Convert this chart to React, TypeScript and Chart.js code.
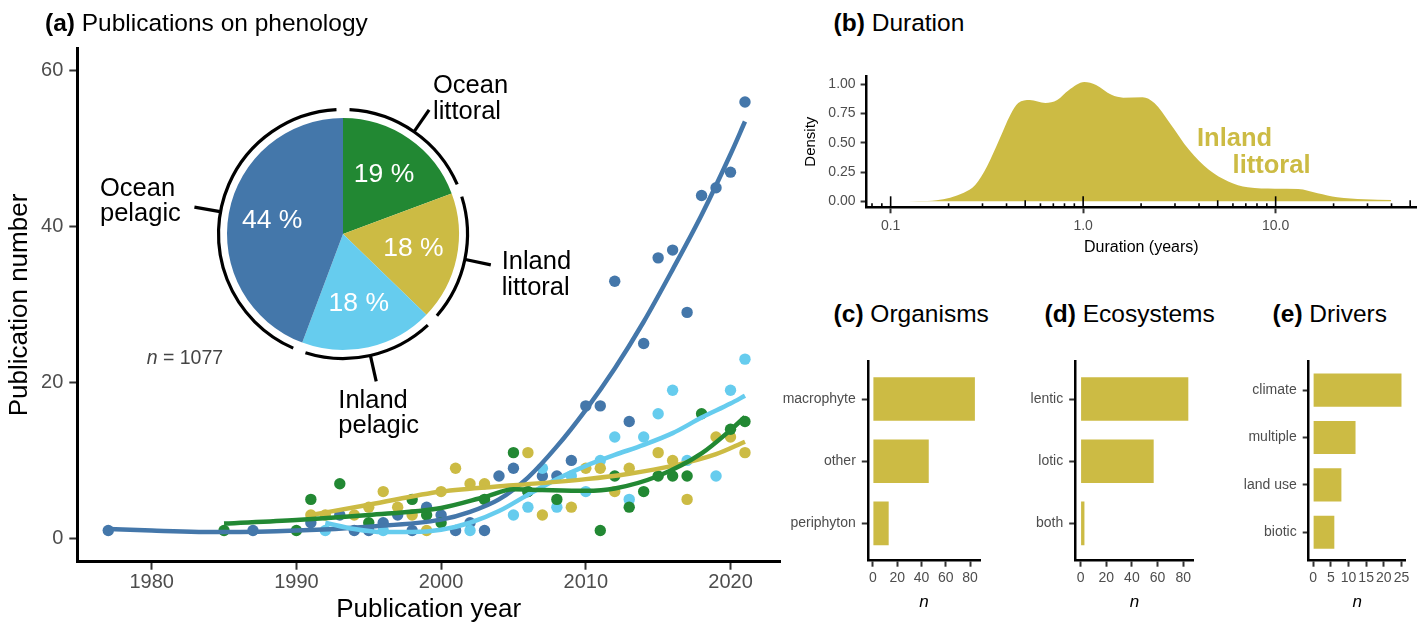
import React, { useEffect, useRef } from 'react';
import { Chart, registerables } from 'chart.js';
Chart.register(...registerables);

const FONT = '"Liberation Sans", Arial, Helvetica, sans-serif';
const TICK_GREY = '#4d4d4d';
const BLUE = '#4477AA';
const GREEN = '#228833';
const YELLOW = '#CCBB44';
const CYAN = '#66CCEE';

// ---------- (a) Publications per year ----------
const yearTicks = [1980, 1990, 2000, 2010, 2020];
const countTicks = [0, 20, 40, 60];

const oceanPelagicYears = [1977, 1987, 1991, 1993, 1994, 1995, 1996, 1997, 1998, 1999, 2000, 2001, 2002, 2003, 2004, 2005, 2006, 2007, 2008, 2009, 2010, 2011, 2012, 2013, 2014, 2015, 2016, 2017, 2018, 2019, 2020, 2021];
const oceanPelagicCounts = [1, 1, 2, 3, 1, 1, 2, 3, 1, 4, 3, 1, 2, 1, 8, 9, 6, 8, 8, 10, 17, 17, 33, 15, 25, 36, 37, 29, 44, 45, 47, 56];
const oceanLittoralYears = [1985, 1990, 1991, 1993, 1995, 1998, 1999, 2000, 2003, 2005, 2006, 2008, 2011, 2012, 2013, 2014, 2015, 2016, 2017, 2018, 2020, 2021];
const oceanLittoralCounts = [1, 1, 5, 7, 2, 5, 3, 2, 5, 11, 6, 5, 1, 8, 4, 6, 8, 8, 8, 16, 14, 15];
const inlandLittoralYears = [1991, 1992, 1994, 1995, 1996, 1997, 1998, 1999, 2000, 2001, 2002, 2003, 2006, 2007, 2009, 2010, 2011, 2012, 2013, 2015, 2016, 2017, 2019, 2020, 2021];
const inlandLittoralCounts = [3, 3, 3, 4, 6, 4, 3, 1, 6, 9, 7, 7, 11, 3, 4, 9, 9, 6, 9, 11, 10, 5, 13, 13, 11];
const inlandPelagicYears = [1992, 1996, 2002, 2005, 2006, 2007, 2008, 2009, 2010, 2011, 2012, 2013, 2014, 2015, 2016, 2017, 2019, 2020, 2021];
const inlandPelagicCounts = [1, 1, 1, 3, 4, 9, 4, 8, 6, 10, 13, 5, 13, 16, 19, 10, 8, 19, 23];

// smoothed trends
const oceanPelagicTrendYears = [1977, 1980, 1985, 1990, 1995, 2000, 2002, 2004, 2006, 2008, 2010, 2012, 2014, 2016, 2018, 2020, 2021];
const oceanPelagicTrend = [1.2, 1.0, 0.8, 1.0, 1.5, 2.4, 3.4, 5.0, 7.8, 11.8, 16.5, 21.8, 27.8, 34.5, 41.5, 49.3, 53.5];
const oceanLittoralTrendYears = [1985, 1990, 1995, 2000, 2003, 2005, 2007, 2010, 2012, 2015, 2018, 2020, 2021];
const oceanLittoralTrend = [1.9, 2.35, 3.0, 3.9, 5.3, 6.3, 6.2, 6.1, 6.4, 8.0, 10.9, 13.9, 15.6];
const inlandLittoralTrendYears = [1991, 1995, 2000, 2005, 2010, 2013, 2016, 2019, 2021];
const inlandLittoralTrend = [3.0, 4.3, 6.0, 6.8, 7.6, 8.3, 9.3, 10.8, 12.4];
const inlandPelagicTrendYears = [1992, 1994, 1996, 1998, 2000, 2002, 2004, 2006, 2008, 2010, 2012, 2014, 2016, 2018, 2020, 2021];
const inlandPelagicTrend = [2.0, 1.2, 0.8, 0.8, 1.1, 2.0, 3.5, 5.6, 7.6, 9.3, 10.7, 12, 13.5, 15.5, 17.3, 18.3];

// pie (clockwise from top)
const habitatNames = ['Ocean littoral', 'Inland littoral', 'Inland pelagic', 'Ocean pelagic'];
const habitatCounts = [208, 193, 199, 477];
const habitatColors = [GREEN, YELLOW, CYAN, BLUE];

// ---------- (b) Duration density ----------
const durationYears = [0.109, 0.14, 0.173, 0.24, 0.275, 0.317, 0.365, 0.419, 0.46, 0.528, 0.637, 0.733, 0.841, 1.014, 1.167, 1.403, 1.614, 2.037, 2.344, 2.818, 3.548, 4.498, 5.675, 7.161, 9.908, 13.09, 16.52, 20.89, 28.84, 39.8];
const durationDensity = [0, 0.003, 0.01, 0.074, 0.14, 0.30, 0.52, 0.74, 0.84, 0.866, 0.84, 0.866, 0.95, 1.02, 0.994, 0.91, 0.886, 0.89, 0.84, 0.67, 0.44, 0.27, 0.17, 0.12, 0.108, 0.105, 0.068, 0.034, 0.017, 0.011];
const durationTicks = [0.1, 1, 10];
const densityTicks = [0, 0.25, 0.5, 0.75, 1];

// ---------- (c)(d)(e) bars ----------
const organismCategories = ['macrophyte', 'other', 'periphyton'];
const organismCounts = [84, 46, 13];
const ecosystemCategories = ['lentic', 'lotic', 'both'];
const ecosystemCounts = [84, 57, 3];
const driverCategories = ['climate', 'multiple', 'land use', 'biotic'];
const driverCounts = [25, 12, 8, 6];
const nTicks80 = [0, 20, 40, 60, 80];
const nTicks25 = [0, 5, 10, 15, 20, 25];

const axisLook = (tickLen: number, borderW: number) => ({
  border: { display: true, color: '#000', width: borderW },
  grid: { display: true, drawOnChartArea: false, drawTicks: true, tickLength: tickLen, tickColor: '#333', tickWidth: 2, offset: false },
});

const baseOptions = {
  responsive: false,
  animation: false,
  events: [],
  plugins: { legend: { display: false }, tooltip: { enabled: false }, title: { display: false } },
};

function ChartCanvas({ left, top, width, height, config }: any) {
  const ref = useRef<HTMLCanvasElement>(null);
  useEffect(() => {
    const chart = new Chart(ref.current as HTMLCanvasElement, config());
    return () => chart.destroy();
  }, []);
  return <canvas ref={ref} width={width} height={height} style={{ position: 'absolute', left, top, width, height }} />;
}

function Txt({ x, base, size, lh, weight = 400, color = '#000', children }: any) {
  const L = lh ?? size * 1.15;
  return (
    <div style={{ position: 'absolute', left: x, top: base - (L / 2 + 0.3465 * size), fontSize: size, lineHeight: `${L}px`, fontWeight: weight, color, whiteSpace: 'nowrap', fontFamily: FONT }}>
      {children}
    </div>
  );
}

// ---------- configs ----------
const scatterConfig = () => {
  const series = [
    { years: oceanLittoralYears, counts: oceanLittoralCounts, ty: oceanLittoralTrendYears, tv: oceanLittoralTrend, color: GREEN },
    { years: inlandLittoralYears, counts: inlandLittoralCounts, ty: inlandLittoralTrendYears, tv: inlandLittoralTrend, color: YELLOW },
    { years: inlandPelagicYears, counts: inlandPelagicCounts, ty: inlandPelagicTrendYears, tv: inlandPelagicTrend, color: CYAN },
    { years: oceanPelagicYears, counts: oceanPelagicCounts, ty: oceanPelagicTrendYears, tv: oceanPelagicTrend, color: BLUE },
  ];
  const datasets: any[] = [];
  series.forEach((s) => {
    datasets.push({
      type: 'line',
      data: s.ty.map((x, i) => ({ x, y: s.tv[i] })),
      borderColor: s.color,
      borderWidth: 4.5,
      pointRadius: 0,
      cubicInterpolationMode: 'monotone',
      fill: false,
      order: 1,
    });
  });
  series.forEach((s) => {
    datasets.push({
      type: 'scatter',
      data: s.years.map((x, i) => ({ x, y: s.counts[i] })),
      backgroundColor: s.color,
      borderWidth: 0,
      pointRadius: 5.7,
      pointHoverRadius: 5.7,
      order: 2,
    });
  });
  return {
    type: 'scatter',
    data: { datasets },
    options: {
      ...baseOptions,
      layout: { padding: { left: 0, right: 20, top: 48.3, bottom: 0 } },
      scales: {
        x: {
          type: 'linear',
          min: 1974.86,
          max: 2023.42,
          afterBuildTicks: (s: any) => { s.ticks = yearTicks.map((v) => ({ value: v })); },
          afterFit: (s: any) => { s.height = 65.3; },
          ticks: { callback: (v: any) => String(v), font: { size: 20, family: FONT }, color: TICK_GREY, padding: 1, maxRotation: 0, autoSkip: false },
          title: { display: true, text: 'Publication year', font: { size: 26, family: FONT }, color: '#000', padding: { top: 0, bottom: 2 } },
          ...axisLook(8, 3),
        },
        y: {
          type: 'linear',
          min: -3.0,
          max: 62.9,
          afterBuildTicks: (s: any) => { s.ticks = countTicks.map((v) => ({ value: v })); },
          afterFit: (s: any) => { s.width = 77.3; },
          ticks: { callback: (v: any) => String(v), font: { size: 20, family: FONT }, color: TICK_GREY, padding: 6, autoSkip: false },
          title: { display: true, text: 'Publication number', font: { size: 26, family: FONT }, color: '#000', padding: { top: 4, bottom: 0 } },
          ...axisLook(8, 3),
        },
      },
    },
  };
};

const pieDecor = {
  id: 'pieDecor',
  afterDatasetsDraw(chart: any) {
    const ctx = chart.ctx;
    const meta = chart.getDatasetMeta(0);
    const data = chart.data.datasets[0].data as number[];
    const total = data.reduce((a, b) => a + b, 0);
    const gap = (3 * Math.PI) / 180;
    ctx.save();
    meta.data.forEach((arc: any, i: number) => {
      const { x, y, startAngle, endAngle, outerRadius } = arc.getProps(['x', 'y', 'startAngle', 'endAngle', 'outerRadius'], true);
      ctx.beginPath();
      ctx.strokeStyle = '#000';
      ctx.lineWidth = 3.2;
      ctx.lineCap = 'butt';
      ctx.arc(x, y, outerRadius + 8.5, startAngle + gap, endAngle - gap);
      ctx.stroke();
      const mid = (startAngle + endAngle) / 2;
      ctx.beginPath();
      ctx.moveTo(x + Math.cos(mid) * (outerRadius + 9), y + Math.sin(mid) * (outerRadius + 9));
      ctx.lineTo(x + Math.cos(mid) * (outerRadius + 35), y + Math.sin(mid) * (outerRadius + 35));
      ctx.stroke();
      ctx.fillStyle = '#fff';
      ctx.font = `26.5px ${FONT}`;
      ctx.textAlign = 'center';
      ctx.textBaseline = 'middle';
      const pct = Math.round((data[i] / total) * 100);
      ctx.fillText(`${pct} %`, x + Math.cos(mid) * outerRadius * 0.62, y + Math.sin(mid) * outerRadius * 0.62);
    });
    ctx.restore();
  },
};

const pieConfig = () => ({
  type: 'pie',
  data: { labels: habitatNames, datasets: [{ data: habitatCounts, backgroundColor: habitatColors, borderWidth: 0 }] },
  options: { ...baseOptions, layout: { padding: 44 } },
  plugins: [pieDecor],
});

const logTicks = {
  id: 'logTicks',
  afterDatasetsDraw(chart: any) {
    const { ctx, chartArea } = chart;
    const xs = chart.scales.x;
    ctx.save();
    ctx.strokeStyle = '#000';
    ctx.lineWidth = 1.6;
    [0.01, 0.1, 1, 10, 100].forEach((d) => {
      for (let m = 1; m <= 9; m++) {
        const v = m * d;
        if (v < xs.min || v > xs.max) continue;
        const px = xs.getPixelForValue(v);
        const len = m === 1 ? 11 : m === 5 ? 7 : 4;
        ctx.beginPath();
        ctx.moveTo(px, chartArea.bottom);
        ctx.lineTo(px, chartArea.bottom - len);
        ctx.stroke();
      }
    });
    ctx.restore();
  },
};

const densityConfig = () => ({
  type: 'line',
  data: {
    datasets: [{
      data: durationYears.map((x, i) => ({ x, y: durationDensity[i] })),
      fill: 'origin',
      backgroundColor: YELLOW,
      borderWidth: 0,
      borderColor: YELLOW,
      pointRadius: 0,
      cubicInterpolationMode: 'monotone',
    }],
  },
  options: {
    ...baseOptions,
    layout: { padding: { left: 0, right: 10, top: 36, bottom: 0 } },
    scales: {
      x: {
        type: 'logarithmic',
        min: 0.075,
        max: 53.6,
        afterBuildTicks: (s: any) => { s.ticks = durationTicks.map((v) => ({ value: v })); },
        afterFit: (s: any) => { s.height = 52.7; },
        ticks: { callback: (v: any) => Number(v).toFixed(1), font: { size: 14, family: FONT }, color: TICK_GREY, padding: 4, maxRotation: 0, autoSkip: false },
        title: { display: true, text: 'Duration (years)', font: { size: 16, family: FONT }, color: '#000', padding: { top: 0, bottom: 3 } },
        ...axisLook(6, 2.5),
      },
      y: {
        type: 'linear',
        min: -0.051,
        max: 1.071,
        afterBuildTicks: (s: any) => { s.ticks = densityTicks.map((v) => ({ value: v })); },
        afterFit: (s: any) => { s.width = 66.6; },
        ticks: { callback: (v: any) => Number(v).toFixed(2), font: { size: 14, family: FONT }, color: TICK_GREY, padding: 5, autoSkip: false },
        title: { display: true, text: 'Density', font: { size: 15, family: FONT }, color: '#000', padding: { top: 2, bottom: 0 } },
        ...axisLook(6, 2.5),
      },
    },
  },
  plugins: [logTicks],
});

const barConfig = (cats: string[], counts: number[], xMin: number, xMax: number, xTicks: number[], padRight: number, yAxisW: number) => () => ({
  type: 'bar',
  data: {
    datasets: [{
      data: counts.map((v, i) => ({ x: v, y: i + 1 })),
      backgroundColor: YELLOW,
      borderWidth: 0,
      barPercentage: 0.7,
      categoryPercentage: 1,
    }],
  },
  options: {
    ...baseOptions,
    indexAxis: 'y',
    layout: { padding: { left: 0, right: padRight, top: 21.7, bottom: 0 } },
    scales: {
      x: {
        type: 'linear',
        min: xMin,
        max: xMax,
        offset: false,
        afterBuildTicks: (s: any) => { s.ticks = xTicks.map((v) => ({ value: v })); },
        afterFit: (s: any) => { s.height = 66.3; },
        ticks: { callback: (v: any) => String(v), font: { size: 14, family: FONT }, color: TICK_GREY, padding: 3, maxRotation: 0, minRotation: 0, autoSkip: false },
        title: { display: true, text: 'n', font: { size: 17, family: FONT, style: 'italic' }, color: '#000', padding: { top: 0, bottom: 15 } },
        ...axisLook(6, 2.5),
      },
      y: {
        type: 'linear',
        reverse: true,
        offset: false,
        min: 0.4,
        max: cats.length + 0.6,
        afterBuildTicks: (s: any) => { s.ticks = cats.map((_, i) => ({ value: i + 1 })); },
        afterFit: (s: any) => { s.width = yAxisW; },
        ticks: { callback: (v: any) => cats[Number(v) - 1], font: { size: 14, family: FONT }, color: TICK_GREY, padding: 6, autoSkip: false },
        ...axisLook(6, 2.5),
      },
    },
  },
});

export default function App() {
  return (
    <div style={{ position: 'absolute', left: 0, top: 0, width: 1426, height: 627, background: '#fff', overflow: 'hidden', fontFamily: FONT }}>
      {/* (a) */}
      <ChartCanvas left={0} top={0} width={800} height={627} config={scatterConfig} />
      <ChartCanvas left={183} top={74} width={320} height={320} config={pieConfig} />
      <Txt x={45} base={31.7} size={24.5}><b>(a)</b> Publications on phenology</Txt>
      <Txt x={433} base={93.3} size={25.5} lh={26}>Ocean<br />littoral</Txt>
      <Txt x={501.7} base={269.3} size={25.5} lh={26}>Inland<br />littoral</Txt>
      <Txt x={338.3} base={408.3} size={25.5} lh={25}>Inland<br />pelagic</Txt>
      <Txt x={100} base={196.7} size={25.5} lh={25}>Ocean<br />pelagic</Txt>
      <Txt x={146.7} base={364} size={19.5} color="#444"><i>n</i> = 1077</Txt>

      {/* (b) */}
      <ChartCanvas left={800} top={40} width={626} height={220} config={densityConfig} />
      <Txt x={833.6} base={31.7} size={24.5}><b>(b)</b> Duration</Txt>
      <Txt x={1197} base={146.7} size={25.5} weight={700} color={YELLOW}>Inland</Txt>
      <Txt x={1232.6} base={173.3} size={25.5} weight={700} color={YELLOW}>littoral</Txt>

      {/* (c) (d) (e) */}
      <ChartCanvas left={770} top={340} width={230} height={287} config={barConfig(organismCategories, organismCounts, -4.2, 88.2, nTicks80, 20, 97.8)} />
      <ChartCanvas left={1000} top={340} width={210} height={287} config={barConfig(ecosystemCategories, ecosystemCounts, -4.2, 88.2, nTicks80, 16.3, 75.2)} />
      <ChartCanvas left={1220} top={340} width={206} height={287} config={barConfig(driverCategories, driverCounts, -1.25, 26.25, nTicks25, 20.1, 88.7)} />
      <Txt x={833.6} base={322.3} size={24.5}><b>(c)</b> Organisms</Txt>
      <Txt x={1044.6} base={322.3} size={24.5}><b>(d)</b> Ecosystems</Txt>
      <Txt x={1272.6} base={322.3} size={24.5}><b>(e)</b> Drivers</Txt>
    </div>
  );
}
